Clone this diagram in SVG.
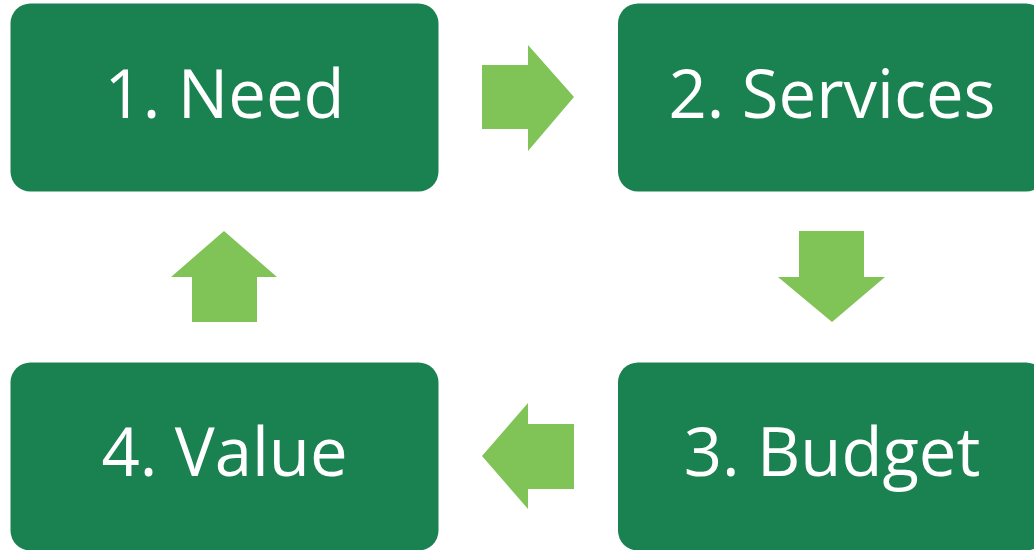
<svg xmlns="http://www.w3.org/2000/svg" width="1034" height="550" viewBox="0 0 1034 550">
<style>
.box{fill:#1A8150}
.arr{fill:#80C357}
.lbl{font-family:"Open Sans","Noto Sans","Liberation Sans",sans-serif;font-size:67px;fill:#FFFFFF;text-anchor:middle}
</style>
<rect width="1034" height="550" fill="#FFFFFF"/>
<g id="node1"><rect class="box" x="10.5" y="3.5" width="428" height="188" rx="20"/><text class="lbl" x="224.5" y="118">1. Need</text></g>
<g id="node2"><rect class="box" x="618" y="3.5" width="428" height="188" rx="20"/><text class="lbl" x="832" y="118">2. Services</text></g>
<g id="node3"><rect class="box" x="618" y="362.5" width="428" height="188" rx="20"/><text class="lbl" x="832" y="476">3. Budget</text></g>
<g id="node4"><rect class="box" x="10.5" y="362.5" width="428" height="188" rx="20"/><text class="lbl" x="224.5" y="476">4. Value</text></g>
<g id="connectors">
<polygon class="arr" points="482,65 528,65 528,45 574,97 528,151 528,129 482,129"/>
<polygon class="arr" points="799,231 864,231 864,277 885,277 832,322 778,277 799,277"/>
<polygon class="arr" points="574,424 528,424 528,403 482,456 528,509 528,489 574,489"/>
<polygon class="arr" points="257,322 192,322 192,277 171,277 224,231 277,277 257,277"/>
</g>
</svg>
